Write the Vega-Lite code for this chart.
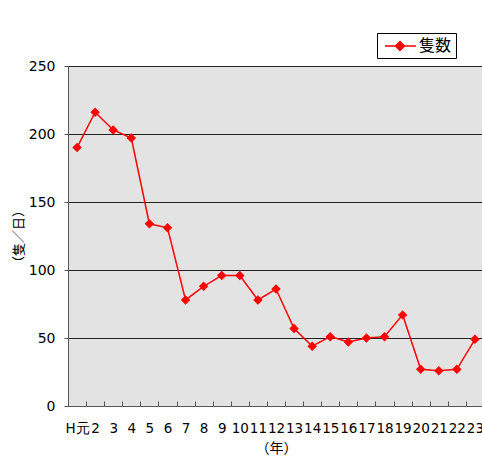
{
  "$schema": "https://vega.github.io/schema/vega-lite/v6.json",
  "width": 416,
  "height": 340,
  "autosize": "none",
  "padding": {"left": 68, "top": 66, "right": 0, "bottom": 53},
  "background": "white",
  "config": {
    "font": "DejaVu Sans",
    "view": {"fill": "#e3e3e3", "stroke": "#777777", "strokeWidth": 1}
  },
  "data": {
    "values": [
      {"year": "H元", "order": 1, "value": 190, "series": "隻数"},
      {"year": "2", "order": 2, "value": 216, "series": "隻数"},
      {"year": "3", "order": 3, "value": 203, "series": "隻数"},
      {"year": "4", "order": 4, "value": 197, "series": "隻数"},
      {"year": "5", "order": 5, "value": 134, "series": "隻数"},
      {"year": "6", "order": 6, "value": 131, "series": "隻数"},
      {"year": "7", "order": 7, "value": 78, "series": "隻数"},
      {"year": "8", "order": 8, "value": 88, "series": "隻数"},
      {"year": "9", "order": 9, "value": 96, "series": "隻数"},
      {"year": "10", "order": 10, "value": 96, "series": "隻数"},
      {"year": "11", "order": 11, "value": 78, "series": "隻数"},
      {"year": "12", "order": 12, "value": 86, "series": "隻数"},
      {"year": "13", "order": 13, "value": 57, "series": "隻数"},
      {"year": "14", "order": 14, "value": 44, "series": "隻数"},
      {"year": "15", "order": 15, "value": 51, "series": "隻数"},
      {"year": "16", "order": 16, "value": 47, "series": "隻数"},
      {"year": "17", "order": 17, "value": 50, "series": "隻数"},
      {"year": "18", "order": 18, "value": 51, "series": "隻数"},
      {"year": "19", "order": 19, "value": 67, "series": "隻数"},
      {"year": "20", "order": 20, "value": 27, "series": "隻数"},
      {"year": "21", "order": 21, "value": 26, "series": "隻数"},
      {"year": "22", "order": 22, "value": 27, "series": "隻数"},
      {"year": "23", "order": 23, "value": 49, "series": "隻数"}
    ]
  },
  "encoding": {
    "x": {
      "field": "year",
      "type": "ordinal",
      "sort": {"field": "order"},
      "scale": {"type": "band", "paddingInner": 0, "paddingOuter": 0},
      "axis": {
        "title": "（年）",
        "titleFont": "Noto Sans CJK JP",
        "titleFontSize": 14,
        "titleFontWeight": "normal",
        "titleColor": "black",
        "titlePadding": 7,
        "labelAngle": 0,
        "labelFontSize": 13.5,
        "labelColor": "black",
        "labelPadding": 20,
        "labelOverlap": false,
        "tickBand": "extent",
        "tickSize": -5,
        "tickColor": "#555555",
        "domainColor": "#555555",
        "grid": false
      }
    },
    "y": {
      "field": "value",
      "type": "quantitative",
      "scale": {"domain": [0, 250], "nice": false},
      "axis": {
        "title": "（隻／日）",
        "titleFont": "Noto Sans CJK JP",
        "titleFontSize": 13,
        "titleFontWeight": "normal",
        "titleColor": "black",
        "titlePadding": 3,
        "values": [0, 50, 100, 150, 200, 250],
        "labelFontSize": 14,
        "labelColor": "black",
        "labelPadding": 9,
        "tickSize": 4,
        "tickColor": "#555555",
        "domainColor": "#555555",
        "grid": true,
        "gridColor": "#222222",
        "gridOpacity": 1,
        "gridWidth": 1
      }
    },
    "color": {
      "field": "series",
      "type": "nominal",
      "scale": {"range": ["#ff0000"]},
      "legend": {
        "title": null,
        "orient": "none",
        "legendX": 309,
        "legendY": -33,
        "padding": 4,
        "strokeColor": "black",
        "fillColor": "white",
        "cornerRadius": 0,
        "symbolType": "M-0.625,0H3.25M1.25,-0.56L1.81,0L1.25,0.56L0.69,0Z",
        "symbolSize": 256,
        "symbolStrokeWidth": 1.5,
        "symbolFillColor": "#ff0000",
        "symbolStrokeColor": "#ff0000",
        "labelFont": "Noto Sans CJK JP",
        "labelFontSize": 16,
        "labelColor": "black",
        "labelOffset": 20
      }
    }
  },
  "mark": {
    "type": "line",
    "strokeWidth": 1.5,
    "point": {"shape": "diamond", "filled": true, "size": 90, "color": "#ff0000", "opacity": 1}
  }
}
